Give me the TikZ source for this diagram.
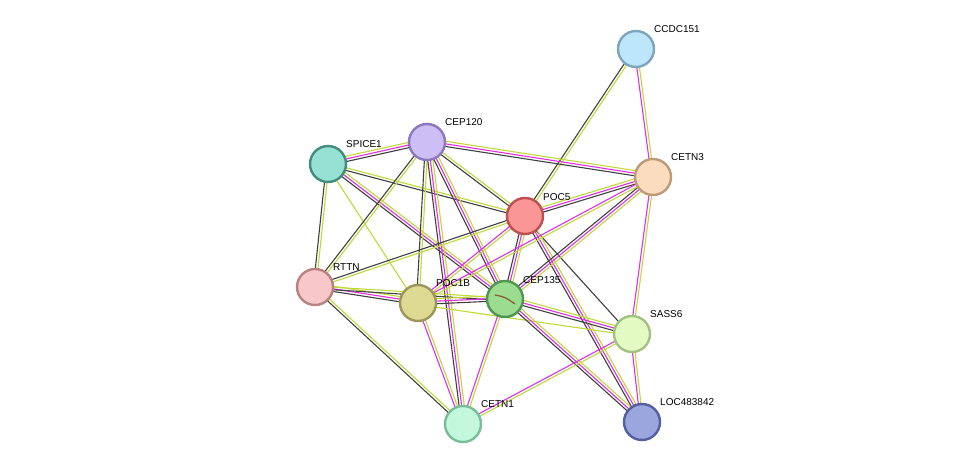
\documentclass[tikz,border=0pt]{standalone}
\usepackage{fontspec}
\setmainfont{Liberation Sans}
\usetikzlibrary{calc}
\tikzset{prot/.style={circle,draw,line width=2.4pt,minimum size=36pt,inner sep=0pt},
 lbl/.style={font=\fontsize{10}{11}\selectfont,anchor=south west,inner sep=1pt}}
\definecolor{ek}{HTML}{404040}\definecolor{ey}{HTML}{C0D838}\definecolor{em}{HTML}{E030E0}
\newcommand\edg[3]{\foreach \c [count=\i] in {#3}{%
 \pgfmathsetmacro\off{(\i-1)*2.6-1.6}%
 \draw[\c,line width=1.1pt] ($(#1)!\off pt!90:(#2)$) -- ($(#2)!\off pt!-90:(#1)$);}}
\begin{document}
\begin{tikzpicture}[x=1pt,y=-1pt]
\useasboundingbox (0,0) rectangle (975,469);
\coordinate (ccdc) at (636,49);
\coordinate (cep120) at (427,142);
\coordinate (spice) at (328,164);
\coordinate (poc5) at (525,216);
\coordinate (cetn3) at (653,177);
\coordinate (rttn) at (315,287);
\coordinate (poc1b) at (418,303);
\coordinate (cep135) at (505,299);
\coordinate (sass6) at (632,334);
\coordinate (cetn1) at (463,424);
\coordinate (loc) at (642,422);
\edg{ccdc}{poc5}{ek,ey}
\edg{ccdc}{cetn3}{em,ey}
\edg{spice}{cep120}{ek,em,ey}
\edg{spice}{poc5}{ek,ey}
\edg{spice}{rttn}{ek,ey}
\edg{spice}{poc1b}{ey}
\edg{spice}{cep135}{ek,em,ey}
\edg{cep120}{cetn3}{ek,em,ey}
\edg{cep120}{poc5}{ek,ey}
\edg{cep120}{rttn}{ek,ey}
\edg{cep120}{poc1b}{ek,ey}
\edg{cep120}{cetn1}{ek,em,ey}
\edg{cep120}{cep135}{ek,em,ey}
\edg{poc5}{cetn3}{ek,em,ey}
\edg{poc5}{rttn}{ek,ey}
\edg{poc5}{poc1b}{em,ey}
\edg{poc5}{cep135}{ek,em,ey}
\edg{poc5}{sass6}{ek}
\edg{poc5}{loc}{ek,em,ey}
\edg{cetn3}{cep135}{ek,em,ey}
\edg{cetn3}{poc1b}{em,ey}
\edg{cetn3}{sass6}{em,ey}
\edg{rttn}{poc1b}{ek,em,ey}
\edg{rttn}{cep135}{ek,ey}
\edg{rttn}{cetn1}{ek,ey}
\edg{poc1b}{cep135}{ek,em,ey}
\edg{poc1b}{cetn1}{em,ey}
\edg{poc1b}{sass6}{ey}
\edg{cep135}{sass6}{ek,em,ey}
\edg{cep135}{loc}{ek,em,ey}
\edg{cep135}{cetn1}{em,ey}
\edg{sass6}{cetn1}{em,ey}
\edg{sass6}{loc}{em,ey}
\node[prot,fill={rgb,255:red,190;green,230;blue,250},draw={rgb,255:red,125;green,165;blue,190}] (nccdc) at (ccdc) {};
\node[prot,fill={rgb,255:red,205;green,190;blue,245},draw={rgb,255:red,140;green,120;blue,190}] (ncep120) at (cep120) {};
\node[prot,fill={rgb,255:red,150;green,225;blue,212},draw={rgb,255:red,65;green,140;blue,125}] (nspice) at (spice) {};
\node[prot,fill={rgb,255:red,250;green,150;blue,150},draw={rgb,255:red,190;green,80;blue,80}] (npoc5) at (poc5) {};
\node[prot,fill={rgb,255:red,252;green,220;blue,190},draw={rgb,255:red,190;green,155;blue,120}] (ncetn3) at (cetn3) {};
\node[prot,fill={rgb,255:red,248;green,200;blue,200},draw={rgb,255:red,185;green,130;blue,130}] (nrttn) at (rttn) {};
\node[prot,fill={rgb,255:red,222;green,218;blue,148},draw={rgb,255:red,155;green,150;blue,90}] (npoc1b) at (poc1b) {};
\node[prot,fill={rgb,255:red,155;green,220;blue,145},draw={rgb,255:red,80;green,150;blue,80}] (ncep135) at (cep135) {};
\node[prot,fill={rgb,255:red,228;green,250;blue,195},draw={rgb,255:red,160;green,195;blue,130}] (nsass6) at (sass6) {};
\node[prot,fill={rgb,255:red,195;green,248;blue,220},draw={rgb,255:red,120;green,190;blue,155}] (ncetn1) at (cetn1) {};
\node[prot,fill={rgb,255:red,155;green,165;blue,222},draw={rgb,255:red,85;green,95;blue,160}] (nloc) at (loc) {};
\draw[brown!70!black,line width=1.2pt] ($(cep135)+(-10,-4)$) .. controls ($(cep135)+(0,-2)$) .. ($(cep135)+(10,5)$);
\node[lbl] at (653,34) {CCDC151};
\node[lbl] at (444,127) {CEP120};
\node[lbl] at (345,149) {SPICE1};
\node[lbl] at (542,202) {POC5};
\node[lbl] at (670,162) {CETN3};
\node[lbl] at (332,272) {RTTN};
\node[lbl] at (435,288) {POC1B};
\node[lbl] at (522,285) {CEP135};
\node[lbl] at (649,319) {SASS6};
\node[lbl] at (480,409) {CETN1};
\node[lbl] at (659,407) {LOC483842};
\end{tikzpicture}
\end{document}
